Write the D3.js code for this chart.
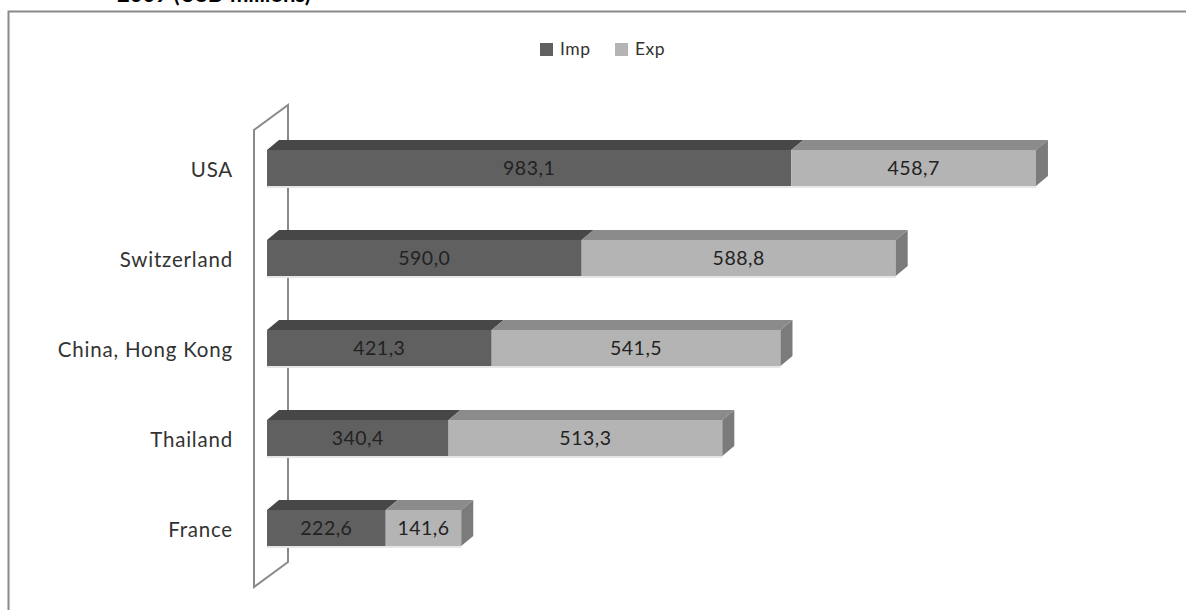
<!DOCTYPE html>
<html><head><meta charset="utf-8">
<script src="https://cdn.jsdelivr.net/npm/d3@7"></script>
<style>body{margin:0;background:#fff}svg{display:block}</style>
</head><body>
<script>
const categories = ["USA", "Switzerland", "China, Hong Kong", "Thailand", "France"];
const impValues = [983.1, 590.0, 421.3, 340.4, 222.6];
const expValues = [458.7, 588.8, 541.5, 513.3, 141.6];
const seriesNames = ["Imp", "Exp"];
const titleText = "2009 (USD millions)";

const W = 1186, H = 610;
const svg = d3.select("body").append("svg").attr("width", W).attr("height", H);
const font = "Lato, 'Open Sans', sans-serif";

// title (cut off at top, as in the reference)
svg.append("text").attr("x", 117).attr("y", 1.5).attr("font-family", font)
  .attr("font-weight", "bold").attr("font-size", 22).attr("fill", "#000").text(titleText);

// outer border
svg.append("path").attr("d", `M8.5,${H} L8.5,11.5 L${W},11.5`).attr("fill", "none")
  .attr("stroke", "#8a8a8a").attr("stroke-width", 2);

const x = d3.scaleLinear().domain([0, 1500]).range([267, 1067]);
const y = d3.scaleBand().domain(categories).range([123, 573]).paddingInner(0.6).paddingOuter(0.3);
const dx = 12, dy = 10;

// wall
svg.append("path").attr("d", "M254,130 L288,105 L288,562 L254,587 Z")
  .attr("fill", "#fff").attr("stroke", "#8a8a8a").attr("stroke-width", 2);

// category labels
svg.append("g").selectAll("text").data(categories).join("text")
  .attr("x", 233).attr("y", d => y(d) + y.bandwidth() / 2 + 9)
  .attr("text-anchor", "end").attr("font-family", font).attr("font-size", 20.5)
  .attr("letter-spacing", 0.8)
  .attr("fill", "#333").text(d => d);

const colors = {
  Imp: {front: "#606060", top: "#474747", side: "#3f3f3f"},
  Exp: {front: "#b4b4b4", top: "#8b8b8b", side: "#7b7b7b"}
};

const segs = [];
categories.forEach((c, i) => {
  segs.push({cat: c, s: "Imp", x0: 0, x1: impValues[i], v: impValues[i]});
  segs.push({cat: c, s: "Exp", x0: impValues[i], x1: impValues[i] + expValues[i], v: expValues[i], last: true});
});

const g = svg.append("g");
segs.forEach(d => {
  const X0 = x(d.x0), X1 = x(d.x1), Y0 = y(d.cat), Y1 = Y0 + y.bandwidth();
  const col = colors[d.s];
  g.append("rect").attr("x", X0).attr("y", Y1).attr("width", X1 - X0).attr("height", 2).attr("fill", "#e6e6e6");
  g.append("path").attr("d", `M${X0},${Y0} L${X0 + dx},${Y0 - dy} L${X1 + dx},${Y0 - dy} L${X1},${Y0} Z`).attr("fill", col.top);
  g.append("rect").attr("x", X0).attr("y", Y0).attr("width", X1 - X0).attr("height", y.bandwidth()).attr("fill", col.front);
  if (d.last) {
    g.append("path").attr("d", `M${X1},${Y0} L${X1 + dx},${Y0 - dy} L${X1 + dx},${Y1 - dy} L${X1},${Y1} Z`).attr("fill", col.side);
  }
  g.append("text").attr("x", (X0 + X1) / 2).attr("y", (Y0 + Y1) / 2 + 7)
    .attr("text-anchor", "middle").attr("font-family", font).attr("font-size", 19.5)
    .attr("letter-spacing", 0.5)
    .attr("fill", "#222").text(d3.format(".1f")(d.v).replace(".", ","));
});

// legend
const lg = svg.append("g");
const lx = [540, 615];
seriesNames.forEach((s, i) => {
  lg.append("rect").attr("x", lx[i]).attr("y", 43).attr("width", 13).attr("height", 13).attr("fill", colors[s].front);
  lg.append("text").attr("x", lx[i] + 20).attr("y", 55).attr("font-family", font).attr("font-size", 17.5)
    .attr("letter-spacing", 0.5).attr("fill", "#333").text(s);
});
</script>
</body></html>
